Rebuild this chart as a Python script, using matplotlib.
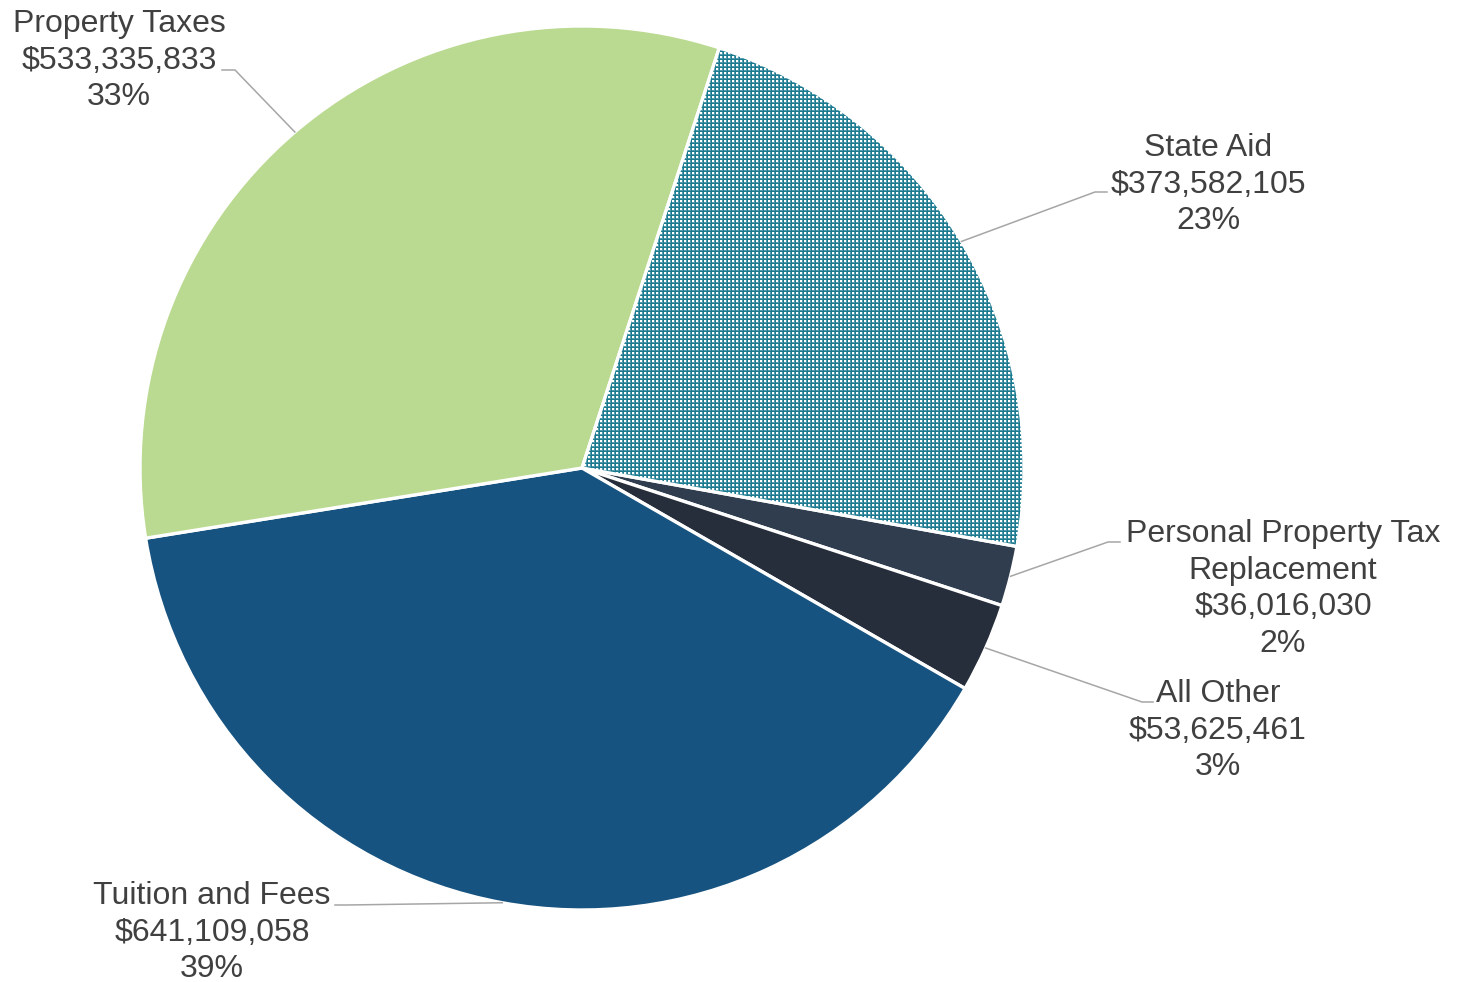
import numpy as np
import matplotlib
matplotlib.use("Agg")
import matplotlib.pyplot as plt
from matplotlib.patches import Wedge

# ------------------------------------------------------------------ #
# data (clockwise, starting with State Aid)

categories = ["State Aid", "Personal Property Tax\nReplacement", "All Other",
              "Tuition and Fees", "Property Taxes"]
amounts = [373582105, 36016030, 53625461, 641109058, 533335833]

colors = ["#1B7A90", "#2F3D4F", "#262D3B", "#175380", "#BBDA91"]

# label anchor (x centre, first baseline) and leader elbow / end, in pixels
label_pos = [(1208, 156), (1283, 542), (1218, 702), (212, 904), (119, 32)]
elbows = [((1095, 192), (1107, 192)),
          ((1108, 542), (1120, 542)),
          ((1142, 702), (1153, 702)),
          ((347, 905), (335, 905)),
          ((235, 70), (222, 70))]

W, H = 1460, 982
text_color = "#404040"
line_color = "#A6A6A6"

plt.rcParams['font.family'] = ['Liberation Sans', 'DejaVu Sans']

fig = plt.figure(figsize=(W / 100, H / 100), dpi=100)
ax = fig.add_axes([0, 0, 1, 1])

cx, cy, R = 582, H - 468, 442

wedges, _ = ax.pie(amounts, colors=colors, startangle=71.9, counterclock=False,
                   center=(cx, cy), radius=R, frame=True,
                   wedgeprops=dict(edgecolor="white", linewidth=2.4))

# dotted texture for State Aid: white squares on teal
tex = np.zeros((H, W, 3))
tex[:] = matplotlib.colors.to_rgb(colors[0])
yy, xx = np.mgrid[0:H, 0:W]
core = (xx % 4 < 2) & (yy % 4 < 2)
edge = ((xx % 4 == 2) & (yy % 4 < 3)) | ((yy % 4 == 2) & (xx % 4 < 3))
tex[core] = 1.0
tex[edge] = 0.75 * tex[edge] + 0.25
im = ax.imshow(tex, extent=(0, W, 0, H), interpolation="nearest", zorder=2,
               aspect="auto")
im.set_clip_path(wedges[0])
w0 = wedges[0]
ax.add_patch(Wedge(w0.center, w0.r, w0.theta1, w0.theta2, fill=False,
                   edgecolor="white", linewidth=2.4, zorder=3))
ax.set_xlim(0, W)
ax.set_ylim(0, H)
ax.axis("off")

total = sum(amounts)
for w, cat, amt, (lx, ly), (elb, end) in zip(wedges, categories, amounts,
                                               label_pos, elbows):
    mid = np.deg2rad((w.theta1 + w.theta2) / 2)
    sx = cx + R * np.cos(mid)
    sy = cy + R * np.sin(mid)
    ax.plot([sx, elb[0], end[0]], [sy, H - elb[1], H - end[1]],
            color=line_color, linewidth=1.1, zorder=4)
    lines = cat.split("\n") + ["${:,}".format(amt),
                               "{:.0f}%".format(100 * amt / total)]
    for i, s in enumerate(lines):
        ax.text(lx, H - (ly + i * 36.6), s, ha="center", va="baseline",
                fontsize=23, color=text_color, zorder=5)

fig.savefig("out.png", dpi=100)
